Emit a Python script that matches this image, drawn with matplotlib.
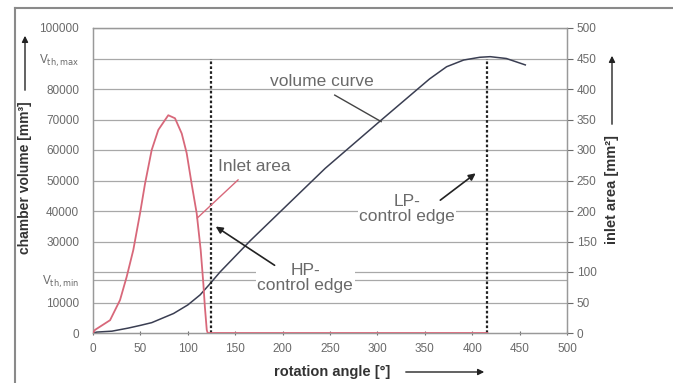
import numpy as np
import matplotlib.pyplot as plt
from matplotlib.lines import Line2D
from matplotlib.patches import FancyArrowPatch

plt.rcParams['font.family'] = ['Liberation Sans', 'DejaVu Sans']

# rotation angle [deg] vs chamber volume [mm^3]
angle_vol = [0, 4, 20, 37, 50, 62, 85, 100, 113, 123, 134, 166, 201, 245, 304,
             338, 355, 373, 391, 408, 419, 436, 456]
volume = [0, 300, 600, 1600, 2500, 3400, 6400, 9200, 12500, 16000, 20000, 30300, 40800,
          54000, 69800, 78800, 83300, 87300, 89500, 90400, 90600, 90000, 87900]

# rotation angle [deg] vs inlet area [mm^2]
angle_inl = [0, 2, 18, 28.5, 35.5, 42.5, 49.6, 54.9, 61.9, 68.9, 79.4, 86.5, 93.6,
             98.8, 104, 109.4, 113.6, 116.4, 118, 120, 121, 416]
inlet = [0, 5, 21, 54, 92, 136, 196, 245, 300, 333, 357, 352, 327,
         295, 245, 196, 136, 81, 43, 5, 0, 0]

hp_edge = 124
lp_edge = 416
v_max = 90000
v_min = 17500

left_ticks = [0, 10000, v_min, 30000, 40000, 50000, 60000, 70000, 80000, v_max, 100000]
left_labels = ['0', '10000', r'V$_{\mathrm{th,min}}$', '30000', '40000', '50000', '60000',
               '70000', '80000', r'V$_{\mathrm{th,max}}$', '100000']
right_ticks = [0, 50, 100, 150, 200, 250, 300, 350, 400, 450, 500]
x_ticks = [0, 50, 100, 150, 200, 250, 300, 350, 400, 450, 500]

grid_c = '#a8a8a8'
tick_c = '#6a6a6a'

fig = plt.figure(figsize=(6.73, 3.83), dpi=100)
ax = fig.add_axes([93/673, 1-333/383, 474/673, 305/383])
ax2 = ax.twinx()

ax.set_xlim(0, 500)
ax.set_ylim(0, 100000)
ax2.set_ylim(0, 500)

# horizontal grid every 10000 plus the two threshold volumes
for g in list(range(10000, 100001, 10000)) + [v_min]:
    ax.axhline(g, color=grid_c, lw=0.9, zorder=0)

ax.plot(angle_vol, volume, color='#3a3e52', lw=1.1, zorder=3)
ax2.plot(angle_inl, inlet, color='#d8687a', lw=1.3, zorder=3)

for e in (hp_edge, lp_edge):
    ax.plot([e, e], [0, v_max], color='#222222', lw=1.6, ls=(0, (1.2, 1.0)), zorder=4)

ax.set_xticks(x_ticks)
ax.set_yticks(left_ticks)
ax.set_yticklabels(left_labels)
ax.tick_params(axis='x', direction='inout', length=3, color=tick_c, labelsize=8.5,
               labelcolor=tick_c, pad=6)
ax.tick_params(axis='y', length=0, labelsize=8.5, labelcolor=tick_c, pad=10)
ax2.set_yticks(right_ticks)
ax2.tick_params(axis='y', direction='out', length=4, color=tick_c, labelsize=8.5,
                labelcolor=tick_c, pad=3)

for a in (ax, ax2):
    for s in a.spines.values():
        s.set_color('#999999')
        s.set_linewidth(0.9)

# annotations
txt_c = '#6a6a6a'
ax.text(241, 82600, 'volume curve', fontsize=12.5, color=txt_c, ha='center', va='center')
ax.plot([255, 304], [78000, 69300], color='#444444', lw=1.0, zorder=5)

ax.text(132, 54700, 'Inlet area', fontsize=12.5, color=txt_c, ha='left', va='center')
ax.plot([153, 110], [50200, 37700], color='#d8687a', lw=1.0, zorder=5)

ax.text(331, 40650, 'LP-\ncontrol edge', fontsize=12.5, color=txt_c, ha='center', va='center',
        multialignment='center', linespacing=0.95,
        bbox=dict(facecolor='white', edgecolor='none', pad=1), zorder=6)
ax.annotate('', xy=(406, 52900), xytext=(364, 43000),
            arrowprops=dict(arrowstyle='-|>', color='#222222', lw=1.2, mutation_scale=10), zorder=6)

ax.text(224, 18000, 'HP-\ncontrol edge', fontsize=12.5, color=txt_c, ha='center', va='center',
        multialignment='center', linespacing=0.95,
        bbox=dict(facecolor='white', edgecolor='none', pad=1), zorder=6)
ax.annotate('', xy=(127, 35400), xytext=(194, 21700),
            arrowprops=dict(arrowstyle='-|>', color='#222222', lw=1.2, mutation_scale=10), zorder=6)

# axis titles with arrows
fig.text(25/673, 1-178/383, 'chamber volume [mm³]', rotation=90, fontsize=10,
         fontweight='bold', color='#333333', ha='center', va='center')
fig.text(612/673, 1-190/383, 'inlet area [mm²]', rotation=90, fontsize=10.5,
         fontweight='bold', color='#333333', ha='center', va='center')
fig.text(332/673, 1-372/383, 'rotation angle [°]', fontsize=10.5,
         fontweight='bold', color='#333333', ha='center', va='center')

arr = dict(arrowstyle='-|>', color='#222222', lw=1.0, mutation_scale=9)
fig.patches.append(FancyArrowPatch((25/673, 1-93/383), (25/673, 1-33/383),
                                   transform=fig.transFigure, **arr))
fig.patches.append(FancyArrowPatch((612/673, 1-127/383), (612/673, 1-53/383),
                                   transform=fig.transFigure, **arr))
fig.patches.append(FancyArrowPatch((403/673, 1-372/383), (487/673, 1-372/383),
                                   transform=fig.transFigure, **arr))

# outer frame
fig.add_artist(Line2D([15/673, 1], [1-8/383, 1-8/383], color='#8a8a8a', lw=1.5))
fig.add_artist(Line2D([15/673, 15/673], [0, 1-8/383], color='#8a8a8a', lw=1.5))

fig.savefig('out.png', dpi=100)
